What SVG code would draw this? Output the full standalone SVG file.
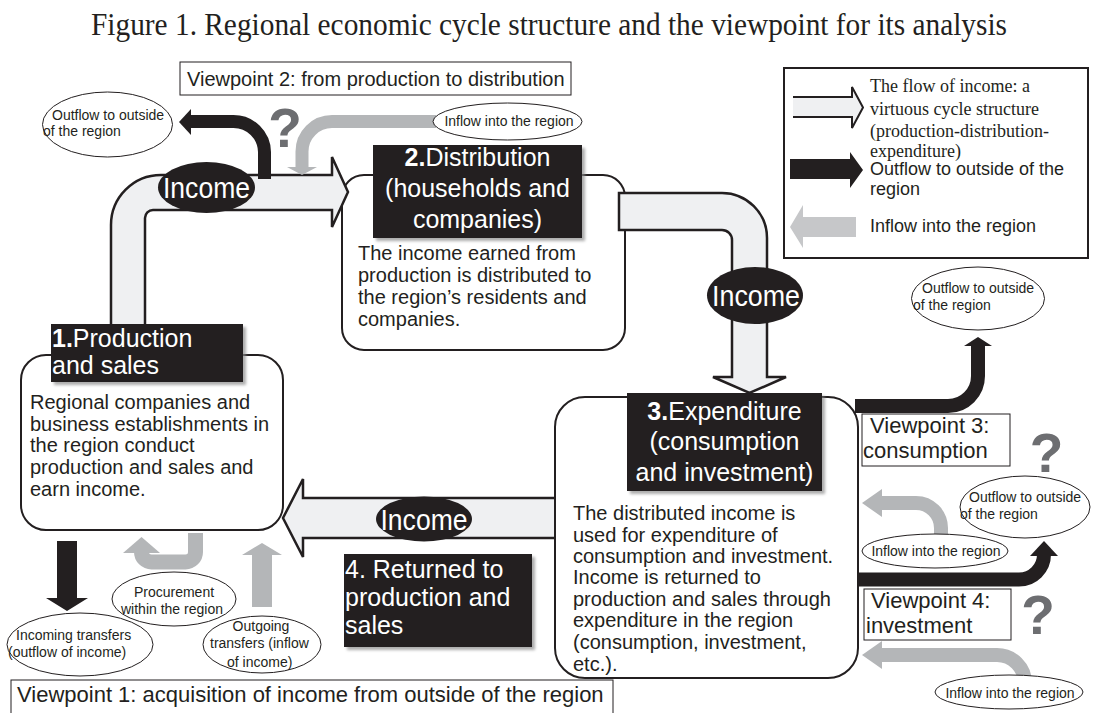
<svg xmlns="http://www.w3.org/2000/svg" width="1097" height="713" viewBox="0 0 1097 713">
  <style>
    .sans { font-family: "Liberation Sans", Arial, sans-serif; fill: #231f20; }
    .serif { font-family: "Liberation Serif", "Times New Roman", serif; fill: #231f20; }
    .box { fill: #ffffff; stroke: #231f20; stroke-width: 2; }
    .vp { fill: #ffffff; stroke: #231f20; stroke-width: 1; }
    .oval { fill: #ffffff; stroke: #231f20; stroke-width: 1; }
    .label { fill: #231f20; }
    .shadow { fill: #8a8a8a; opacity: 0.7; }
    .lt { font-family: "Liberation Sans", Arial, sans-serif; fill: #ffffff; font-size: 25px; }
    .desc { font-size: 20px; }
    .small { font-size: 14px; }
    .flow { fill: #eff0f2; stroke: #231f20; stroke-width: 2.5; stroke-linejoin: miter; }
    .out { fill: none; stroke: #231f20; }
    .outhead { fill: #231f20; }
    .in { fill: none; stroke: #b4b6b8; }
    .inhead { fill: #b4b6b8; }
    .income { fill: #231f20; }
    .incometext { font-family: "Liberation Sans", Arial, sans-serif; fill: #ffffff; font-size: 30px; }
    .q { font-family: "Liberation Sans", Arial, sans-serif; font-weight: bold; font-size: 55px; fill: #6d6e71; }
  </style>
  <defs>
    <filter id="soft" x="-10%" y="-10%" width="130%" height="130%">
      <feGaussianBlur stdDeviation="1.5"/>
    </filter>
  </defs>

  <rect x="0" y="0" width="1097" height="713" fill="#ffffff"/>

  <!-- title -->
  <text class="serif" x="91" y="35" font-size="32" textLength="916" lengthAdjust="spacingAndGlyphs">Figure 1. Regional economic cycle structure and the viewpoint for its analysis</text>

  <!-- 1. production and sales -->
  <g id="node-production">
    <rect class="box" x="21" y="355" width="262" height="175" rx="25"/>
    <text class="sans desc" x="30" y="409">Regional companies and</text>
    <text class="sans desc" x="30" y="431">business establishments in</text>
    <text class="sans desc" x="30" y="452">the region conduct</text>
    <text class="sans desc" x="30" y="474">production and sales and</text>
    <text class="sans desc" x="30" y="496">earn income.</text>
  </g>

  <!-- 2. distribution -->
  <g id="node-distribution">
    <rect class="box" x="342" y="175" width="283" height="175" rx="22"/>
    <text class="sans desc" x="358" y="260">The income earned from</text>
    <text class="sans desc" x="358" y="282">production is distributed to</text>
    <text class="sans desc" x="358" y="304">the region’s residents and</text>
    <text class="sans desc" x="358" y="326">companies.</text>
  </g>

  <!-- connectors -->
  <g id="connectors">
    <!-- main cycle: production to distribution -->
    <path class="flow" d="M111,332 L111,225 A50,50 0 0 1 161,175 L332,175 L332,157 L348,192 L332,227 L332,210 L153,210 A8,8 0 0 0 145,218 L145,332 Z"/>
    <!-- distribution to expenditure -->
    <path class="flow" d="M619,193 L722,193 A45,45 0 0 1 767,238 L767,377 L786,377 L749.5,393 L713,377 L732,377 L732,240 A10,10 0 0 0 722,230 L619,230 Z"/>
    <!-- expenditure back to production -->
    <path class="flow" d="M562,498 L303,498 L303,479 L283,518 L303,557 L303,538 L562,538 Z"/>

    <!-- outflow / inflow at the distribution step -->
    <path class="out" stroke-width="13" d="M264.5,179 L264.5,152 A31,31 0 0 0 233.5,121.5 L189,121.5"/>
    <polygon class="outhead" points="191,109 179,122 191,135"/>
    <path class="in" stroke-width="13" d="M436,121.5 L332,121.5 A30,30 0 0 0 302,151.5 L302,168"/>
    <polygon class="inhead" points="287,167 302,175 317,167"/>

    <!-- outflow at the consumption step -->
    <path class="out" stroke-width="14" d="M855,406 L948,406 A30,30 0 0 0 978,376 L978,345"/>
    <polygon class="outhead" points="964,346 978,337 992,346"/>
    <!-- inflow at the consumption step -->
    <path class="in" stroke-width="14" d="M941,540 L941,528 A25,25 0 0 0 916,503 L881,503"/>
    <polygon class="inhead" points="882,489 862,503 882,517"/>
    <!-- outflow at the investment step -->
    <path class="out" stroke-width="14" d="M855,579.5 L1019,579.5 A25,25 0 0 0 1044,554.5 L1044,554"/>
    <polygon class="outhead" points="1030,556 1044,541 1058,556"/>
    <!-- inflow at the investment step -->
    <path class="in" stroke-width="14" d="M1025,690 L1025,683 A28,28 0 0 0 997,655 L881,655"/>
    <polygon class="inhead" points="882,641 862,655 882,669"/>

    <!-- transfers around production -->
    <polygon class="outhead" points="57,541 77,541 77,598 88,598 67,611 46,598 57,598"/>
    <polygon class="inhead" points="252,607 272,607 272,555 282,555 262,543 242,555 252,555"/>
    <path class="in" stroke-width="15" d="M195.5,533 L195.5,552 A10,10 0 0 1 185.5,562 L151.5,562 A10,10 0 0 1 141.5,552 L141.5,550"/>
    <polygon class="inhead" points="123,553 141.5,537 160,553"/>
  </g>

  <!-- 3. expenditure (drawn over the returning arrow) -->
  <g id="node-expenditure">
    <rect class="box" x="555" y="397" width="303" height="281" rx="30"/>
    <text class="sans desc" x="573" y="520">The distributed income is</text>
    <text class="sans desc" x="573" y="542">used for expenditure of</text>
    <text class="sans desc" x="573" y="563">consumption and investment.</text>
    <text class="sans desc" x="573" y="584">Income is returned to</text>
    <text class="sans desc" x="573" y="606">production and sales through</text>
    <text class="sans desc" x="573" y="627">expenditure in the region</text>
    <text class="sans desc" x="573" y="649">(consumption, investment,</text>
    <text class="sans desc" x="573" y="671">etc.).</text>
  </g>

  <!-- step labels -->
  <g id="label-1">
    <rect class="shadow" x="54" y="327" width="192" height="58" filter="url(#soft)"/>
    <rect class="label" x="51" y="324" width="192" height="58"/>
    <text class="lt" x="52" y="347"><tspan font-weight="bold">1.</tspan>Production</text>
    <text class="lt" x="52" y="374">and sales</text>
  </g>
  <g id="label-2">
    <rect class="shadow" x="376" y="148" width="209" height="93" filter="url(#soft)"/>
    <rect class="label" x="373" y="145" width="209" height="93"/>
    <text class="lt" x="477.5" y="166" text-anchor="middle"><tspan font-weight="bold">2.</tspan>Distribution</text>
    <text class="lt" x="477.5" y="197" text-anchor="middle">(households and</text>
    <text class="lt" x="477.5" y="228" text-anchor="middle">companies)</text>
  </g>
  <g id="label-3">
    <rect class="shadow" x="630" y="396" width="195" height="98" filter="url(#soft)"/>
    <rect class="label" x="627" y="393" width="195" height="98"/>
    <text class="lt" x="724.5" y="420" text-anchor="middle"><tspan font-weight="bold">3.</tspan>Expenditure</text>
    <text class="lt" x="724.5" y="450" text-anchor="middle">(consumption</text>
    <text class="lt" x="724.5" y="481" text-anchor="middle">and investment)</text>
  </g>
  <g id="label-4">
    <rect class="shadow" x="347" y="557" width="188" height="93" filter="url(#soft)"/>
    <rect class="label" x="344" y="554" width="188" height="93"/>
    <text class="lt" x="345" y="578">4. Returned to</text>
    <text class="lt" x="345" y="606">production and</text>
    <text class="lt" x="345" y="634">sales</text>
  </g>

  <!-- income tokens on the cycle -->
  <g id="income-1">
    <ellipse class="income" cx="206.5" cy="187.5" rx="48.5" ry="25.5"/>
    <text class="incometext" x="206.5" y="198" text-anchor="middle" textLength="87" lengthAdjust="spacingAndGlyphs">Income</text>
  </g>
  <g id="income-2">
    <ellipse class="income" cx="755" cy="295.5" rx="48" ry="28.5"/>
    <text class="incometext" x="756" y="306" text-anchor="middle" textLength="88" lengthAdjust="spacingAndGlyphs">Income</text>
  </g>
  <g id="income-3">
    <ellipse class="income" cx="424" cy="519" rx="48" ry="22.5"/>
    <text class="incometext" x="424" y="530" text-anchor="middle" textLength="87" lengthAdjust="spacingAndGlyphs">Income</text>
  </g>

  <!-- viewpoints -->
  <g id="viewpoint-1">
    <rect class="vp" x="11" y="680" width="602" height="45"/>
    <text class="sans" x="17" y="702" font-size="22">Viewpoint 1: acquisition of income from outside of the region</text>
  </g>
  <g id="viewpoint-2">
    <rect class="vp" x="180" y="62" width="391" height="33"/>
    <text class="sans" x="187" y="86" font-size="20">Viewpoint 2: from production to distribution</text>
  </g>
  <g id="viewpoint-3">
    <rect class="vp" x="862" y="414" width="148" height="52"/>
    <text class="sans" x="870" y="433" font-size="22">Viewpoint 3:</text>
    <text class="sans" x="863" y="458" font-size="22">consumption</text>
  </g>
  <g id="viewpoint-4">
    <rect class="vp" x="864" y="589" width="147" height="51"/>
    <text class="sans" x="871" y="608" font-size="22">Viewpoint 4:</text>
    <text class="sans" x="866" y="633" font-size="22">investment</text>
  </g>

  <!-- question marks -->
  <g id="questions">
    <text class="q" x="285" y="147" text-anchor="middle">?</text>
    <text class="q" x="1046.5" y="472" text-anchor="middle">?</text>
    <text class="q" x="1038" y="634" text-anchor="middle">?</text>
  </g>

  <!-- flow endpoints -->
  <g id="out-distribution">
    <ellipse class="oval" cx="107.5" cy="124.5" rx="65" ry="32.5"/>
    <text class="sans small" x="52" y="120">Outflow to outside</text>
    <text class="sans small" x="43" y="136">of the region</text>
  </g>
  <g id="in-distribution">
    <ellipse class="oval" cx="507.5" cy="121.5" rx="74.5" ry="18.5"/>
    <text class="sans small" x="509" y="126" text-anchor="middle">Inflow into the region</text>
  </g>
  <g id="out-consumption">
    <ellipse class="oval" cx="978" cy="298.5" rx="66.5" ry="31.5"/>
    <text class="sans small" x="922" y="293">Outflow to outside</text>
    <text class="sans small" x="913" y="310">of the region</text>
  </g>
  <g id="out-investment">
    <ellipse class="oval" cx="1025" cy="507" rx="65" ry="31"/>
    <text class="sans small" x="969" y="502">Outflow to outside</text>
    <text class="sans small" x="960" y="519">of the region</text>
  </g>
  <g id="in-consumption">
    <ellipse class="oval" cx="935" cy="551" rx="73" ry="17"/>
    <text class="sans small" x="936" y="556" text-anchor="middle">Inflow into the region</text>
  </g>
  <g id="in-investment">
    <ellipse class="oval" cx="1009" cy="692" rx="74" ry="17"/>
    <text class="sans small" x="1010" y="698" text-anchor="middle">Inflow into the region</text>
  </g>
  <g id="procurement">
    <ellipse class="oval" cx="174" cy="599" rx="62" ry="27"/>
    <text class="sans small" x="174" y="597" text-anchor="middle">Procurement</text>
    <text class="sans small" x="121" y="614">within the region</text>
  </g>
  <g id="incoming-transfers">
    <ellipse class="oval" cx="80" cy="644.5" rx="73" ry="31.5"/>
    <text class="sans small" x="16" y="640">Incoming transfers</text>
    <text class="sans small" x="8" y="657">(outflow of income)</text>
  </g>
  <g id="outgoing-transfers">
    <ellipse class="oval" cx="262" cy="644.5" rx="59" ry="28.5"/>
    <text class="sans small" x="261" y="631" text-anchor="middle">Outgoing</text>
    <text class="sans small" x="210" y="648">transfers (inflow</text>
    <text class="sans small" x="227" y="667">of income)</text>
  </g>

  <!-- legend -->
  <g id="legend">
    <rect x="784" y="68" width="304" height="190" fill="#ffffff" stroke="#231f20" stroke-width="2"/>
    <path d="M793,97 L852,97 L852,87 L863,107.5 L852,128 L852,117 L793,117" fill="#eff0f2" stroke="#231f20" stroke-width="2"/>
    <text class="serif" x="870" y="92" font-size="18">The flow of income: a</text>
    <text class="serif" x="870" y="115" font-size="18">virtuous cycle structure</text>
    <text class="serif" x="870" y="137" font-size="18">(production-distribution-</text>
    <text class="serif" x="870" y="157" font-size="18">expenditure)</text>
    <polygon points="790,159 850,159 850,152 863,170 850,188 850,179 790,179" fill="#231f20"/>
    <text class="sans" x="870" y="175" font-size="18">Outflow to outside of the</text>
    <text class="sans" x="870" y="195" font-size="18">region</text>
    <polygon points="856,217 803,217 803,205 790,227 803,248 803,237 856,237" fill="#c6c7c9"/>
    <text class="sans" x="870" y="232" font-size="18">Inflow into the region</text>
  </g>
</svg>
